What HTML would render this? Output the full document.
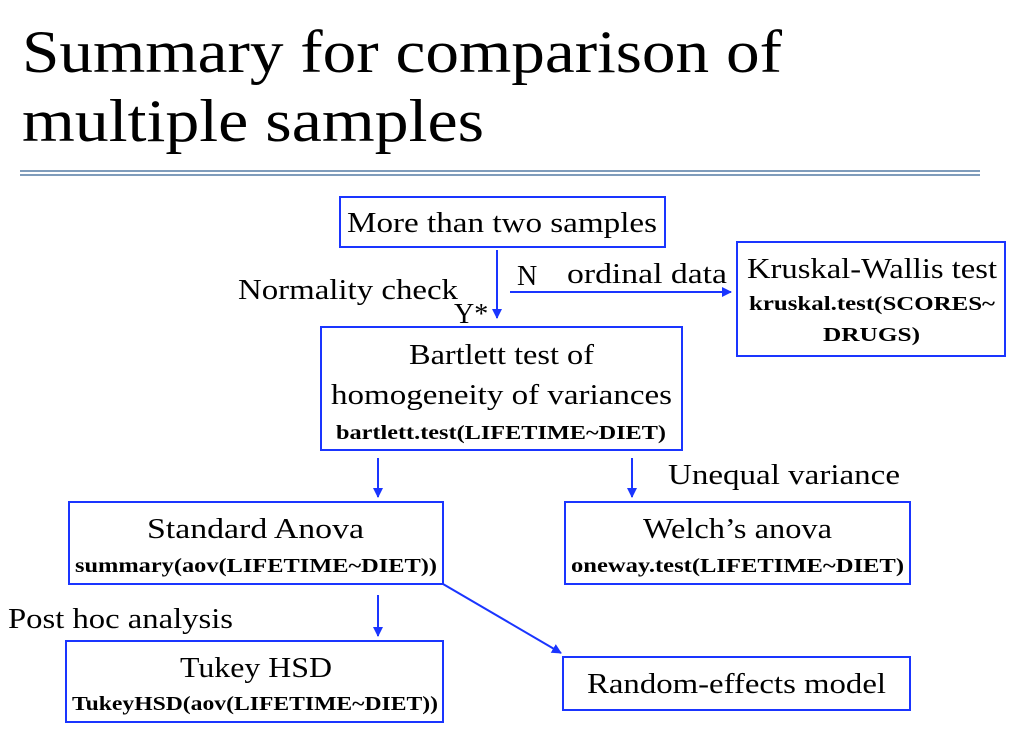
<!DOCTYPE html>
<html><head><meta charset="utf-8"><style>
html,body{margin:0;padding:0;background:#fff;width:1011px;height:729px;overflow:hidden}
svg{display:block}
text{font-family:"Liberation Serif",serif;fill:#000}
.b{font-weight:bold;font-size:20px}
.n{font-size:28px}
</style></head><body>
<svg width="1011" height="729" viewBox="0 0 1011 729">
<defs><marker id="ah" markerWidth="10" markerHeight="10" refX="9" refY="5" orient="auto" markerUnits="userSpaceOnUse"><path d="M0,0 L10,5 L0,10 z" fill="#1a35ff"/></marker></defs>
<g>
<text x="22" y="72" font-size="60" textLength="760" lengthAdjust="spacingAndGlyphs">Summary for comparison of</text>
<text x="22" y="141" font-size="60" textLength="462" lengthAdjust="spacingAndGlyphs">multiple samples</text>
</g>
<g stroke="#7f9cbb" stroke-width="2">
<line x1="20" y1="171" x2="980" y2="171"/><line x1="20" y1="175" x2="980" y2="175"/>
</g>
<g fill="none" stroke="#1a35ff" stroke-width="2">
<rect x="340" y="197" width="325" height="50"/>
<rect x="737" y="242" width="268" height="114"/>
<rect x="321" y="327" width="361" height="123"/>
<rect x="69" y="502" width="374" height="82"/>
<rect x="565" y="502" width="345" height="82"/>
<rect x="66" y="641" width="377" height="81"/>
<rect x="563" y="657" width="347" height="53"/>
</g>
<g stroke="#1a35ff" stroke-width="2" marker-end="url(#ah)">
<line x1="497" y1="250" x2="497" y2="318"/>
<line x1="510" y1="292" x2="731" y2="292"/>
<line x1="378" y1="458" x2="378" y2="497"/>
<line x1="632" y1="458" x2="632" y2="497"/>
<line x1="378" y1="595" x2="378" y2="636"/>
<line x1="443" y1="584" x2="561" y2="653"/>
</g>
<g lengthAdjust="spacingAndGlyphs">
<text class="n" x="347" y="232" textLength="310" lengthAdjust="spacingAndGlyphs">More than two samples</text>
<text class="n" x="238" y="299" textLength="220" lengthAdjust="spacingAndGlyphs">Normality check</text>
<text class="n" x="454" y="323">Y*</text>
<text class="n" x="517" y="285">N</text>
<text class="n" x="567" y="283" textLength="160" lengthAdjust="spacingAndGlyphs">ordinal data</text>
<text class="n" x="747" y="278" textLength="250" lengthAdjust="spacingAndGlyphs">Kruskal-Wallis test</text>
<text class="b" x="749" y="310" textLength="246" lengthAdjust="spacingAndGlyphs">kruskal.test(SCORES~</text>
<text class="b" x="823" y="341" textLength="97" lengthAdjust="spacingAndGlyphs">DRUGS)</text>
<text class="n" x="409" y="364" textLength="185" lengthAdjust="spacingAndGlyphs">Bartlett test of</text>
<text class="n" x="331" y="404" textLength="341" lengthAdjust="spacingAndGlyphs">homogeneity of variances</text>
<text class="b" x="336" y="439" textLength="330" lengthAdjust="spacingAndGlyphs">bartlett.test(LIFETIME~DIET)</text>
<text class="n" x="668" y="484" textLength="232" lengthAdjust="spacingAndGlyphs">Unequal variance</text>
<text class="n" x="147" y="538" textLength="217" lengthAdjust="spacingAndGlyphs">Standard Anova</text>
<text class="b" x="75" y="572" textLength="362" lengthAdjust="spacingAndGlyphs">summary(aov(LIFETIME~DIET))</text>
<text class="n" x="643" y="538" textLength="189" lengthAdjust="spacingAndGlyphs">Welch’s anova</text>
<text class="b" x="571" y="572" textLength="333" lengthAdjust="spacingAndGlyphs">oneway.test(LIFETIME~DIET)</text>
<text class="n" x="8" y="628" textLength="225" lengthAdjust="spacingAndGlyphs">Post hoc analysis</text>
<text class="n" x="180" y="677" textLength="152" lengthAdjust="spacingAndGlyphs">Tukey HSD</text>
<text class="b" x="72" y="710" textLength="366" lengthAdjust="spacingAndGlyphs">TukeyHSD(aov(LIFETIME~DIET))</text>
<text class="n" x="587" y="693" textLength="299" lengthAdjust="spacingAndGlyphs">Random-effects model</text>
</g>
</svg>
</body></html>
